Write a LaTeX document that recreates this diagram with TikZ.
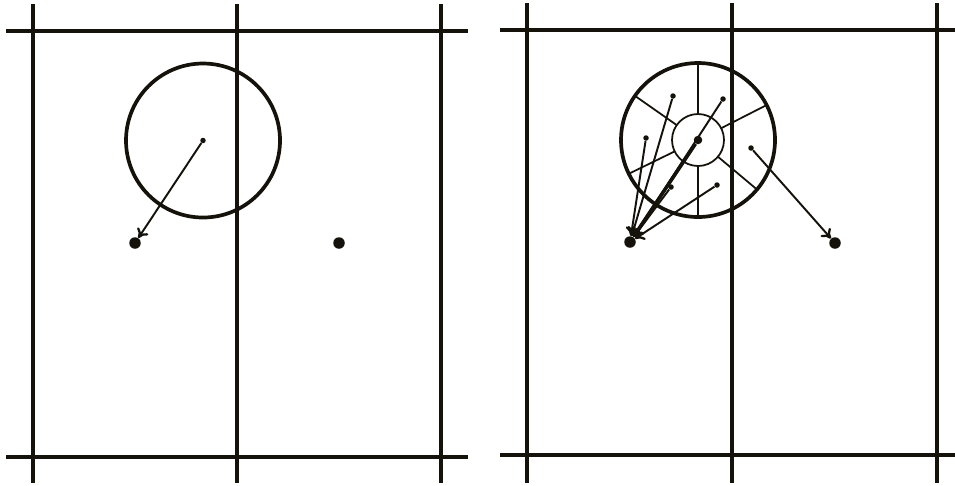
\documentclass[tikz,border=0pt]{standalone}
\usetikzlibrary{arrows.meta,calc}
\definecolor{ink}{RGB}{20,18,10}
\tikzset{
  grid/.style={line width=2.3pt, draw=ink},
  ring/.style={line width=2.1pt, draw=ink},
  thinline/.style={line width=1pt, draw=ink},
  bigdot/.style={circle, fill=ink, inner sep=0pt, minimum size=0.23cm},
  smalldot/.style={circle, fill=ink, inner sep=0pt, minimum size=0.11cm},
  middot/.style={circle, fill=ink, inner sep=0pt, minimum size=0.17cm},
  arr/.style={line width=1.1pt, draw=ink, -{To[length=1.8mm,width=2.6mm,line width=1.3pt]}},
  thickarr/.style={line width=2pt, draw=ink, -{To[length=1.9mm,width=2.8mm]}},
}
\begin{document}
\begin{tikzpicture}[x=0.02cm,y=-0.02cm]
\useasboundingbox (0,0) rectangle (955,485);
% ---------- left panel grid ----------
\coordinate (lh1a) at (6,31);   \coordinate (lh1b) at (468,31);
\coordinate (lh2a) at (6,457);  \coordinate (lh2b) at (468,457);
\coordinate (lv1a) at (33,4);   \coordinate (lv1b) at (33,483);
\coordinate (lv2a) at (237,4);  \coordinate (lv2b) at (237,483);
\coordinate (lv3a) at (441,4);  \coordinate (lv3b) at (441,483);
\draw[grid] (lh1a) -- (lh1b);
\draw[grid] (lh2a) -- (lh2b);
\draw[grid] (lv1a) -- (lv1b);
\draw[grid] (lv2a) -- (lv2b);
\draw[grid] (lv3a) -- (lv3b);
% left circle
\coordinate (lc) at (203,140.5);
\draw[ring] (lc) circle[radius=77];
\node[smalldot] (lcd) at (lc) {};
\node[bigdot] (lt1) at (135,243) {};
\node[bigdot] (lt2) at (339,243) {};
\draw[arr] (lcd) -- (lt1);
% ---------- right panel grid ----------
\coordinate (rh1a) at (500,30);  \coordinate (rh1b) at (955,30);
\coordinate (rh2a) at (500,455); \coordinate (rh2b) at (955,455);
\coordinate (rv1a) at (527,3);   \coordinate (rv1b) at (527,483);
\coordinate (rv2a) at (732,3);   \coordinate (rv2b) at (732,483);
\coordinate (rv3a) at (937,3);   \coordinate (rv3b) at (937,483);
\draw[grid] (rh1a) -- (rh1b);
\draw[grid] (rh2a) -- (rh2b);
\draw[grid] (rv1a) -- (rv1b);
\draw[grid] (rv2a) -- (rv2b);
\draw[grid] (rv3a) -- (rv3b);
% right circle with inner circle and spokes
\coordinate (rc) at (698,140);
\draw[ring] (rc) circle[radius=77];
\draw[thinline] (rc) circle[radius=26];
\foreach \a in {90,27,-40,-90,-154,145}{
  \draw[thinline] ($(rc)+(\a:26 and -26)$) -- ($(rc)+(\a:77 and -77)$);
}
% sample points
\node[middot] (rcd) at (rc) {};
\node[smalldot] (s1) at (673,96) {};
\node[smalldot] (s2) at (723,99) {};
\node[smalldot] (s3) at (646,138) {};
\node[smalldot] (s4) at (751,148) {};
\node[smalldot] (s5) at (671,187) {};
\node[smalldot] (s6) at (717,185) {};
\node[bigdot] (rt1) at (630,242) {};
\node[bigdot] (rt2) at (835,243) {};
\draw[arr] (s1) -- (rt1);
\draw[arr] (s2) -- (rt1);
\draw[arr] (s3) -- (rt1);
\draw[arr] (s5) -- (rt1);
\draw[arr] (s6) -- (rt1);
\draw[thickarr] (rcd) -- (rt1);
\draw[arr] (s4) -- (rt2);
\end{tikzpicture}
\end{document}
